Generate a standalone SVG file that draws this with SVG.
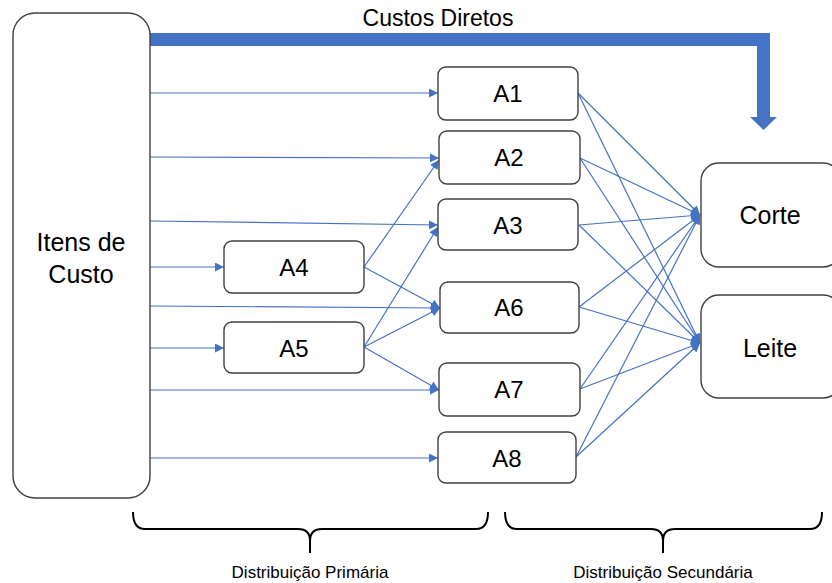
<svg xmlns="http://www.w3.org/2000/svg" width="832" height="583" viewBox="0 0 832 583">
<style>
.box{fill:#fff;stroke:#404040;stroke-width:1.4}
.lbl{font-family:"Liberation Sans","DejaVu Sans",sans-serif;fill:#000;text-anchor:middle}
.n{font-size:24px}
.b{font-size:25px}
.c{stroke:#4472C4;stroke-width:1.2;fill:none;marker-end:url(#ah)}
.br{stroke:#000;stroke-width:2;fill:none}
.sm{font-size:17px}
</style>
<defs>
<marker id="ah" viewBox="0 0 10 10" refX="10" refY="5" markerWidth="10" markerHeight="9" markerUnits="userSpaceOnUse" orient="auto">
<path d="M0,0 L10,5 L0,10 Z" fill="#4472C4"/>
</marker>
</defs>
<g id="direct">
<polygon points="150,33 770,33 770,117 777,117 763.5,130 750,117 757,117 757,46 150,46" fill="#4472C4"/>
<text class="lbl" x="438" y="26" font-size="23">Custos Diretos</text>
</g>
<g id="connectors">
<line class="c" x1="150" y1="93" x2="438" y2="93"/>
<line class="c" x1="150" y1="157" x2="439" y2="158"/>
<line class="c" x1="150" y1="221" x2="438" y2="225"/>
<line class="c" x1="150" y1="267" x2="224" y2="267"/>
<line class="c" x1="150" y1="306" x2="440" y2="308"/>
<line class="c" x1="150" y1="348" x2="224" y2="348"/>
<line class="c" x1="150" y1="390" x2="439" y2="390"/>
<line class="c" x1="150" y1="458" x2="438" y2="458"/>
<line class="c" x1="364" y1="267" x2="439" y2="160"/>
<line class="c" x1="364" y1="267" x2="440" y2="308"/>
<line class="c" x1="364" y1="347" x2="438" y2="227"/>
<line class="c" x1="364" y1="347" x2="440" y2="308"/>
<line class="c" x1="364" y1="347" x2="439" y2="390"/>
<line class="c" x1="578" y1="93" x2="700" y2="215"/>
<line class="c" x1="578" y1="93" x2="700" y2="343"/>
<line class="c" x1="580" y1="158" x2="700" y2="215"/>
<line class="c" x1="580" y1="158" x2="700" y2="343"/>
<line class="c" x1="579" y1="225" x2="700" y2="215"/>
<line class="c" x1="579" y1="225" x2="700" y2="343"/>
<line class="c" x1="579" y1="307" x2="700" y2="215"/>
<line class="c" x1="579" y1="307" x2="700" y2="343"/>
<line class="c" x1="580" y1="389" x2="700" y2="215"/>
<line class="c" x1="580" y1="389" x2="700" y2="343"/>
<line class="c" x1="576" y1="457" x2="700" y2="215"/>
<line class="c" x1="576" y1="457" x2="700" y2="343"/>
</g>
<g id="itens">
<rect class="box" x="13" y="13" width="137" height="485" rx="22"/>
<text class="lbl b" x="81" y="251">Itens de</text>
<text class="lbl b" x="81" y="283">Custo</text>
</g>
<g id="A1"><rect class="box" x="438" y="67" width="140" height="53" rx="8"/><text class="lbl n" x="508" y="102">A1</text></g>
<g id="A2"><rect class="box" x="439" y="131" width="141" height="53" rx="8"/><text class="lbl n" x="509" y="166">A2</text></g>
<g id="A3"><rect class="box" x="438" y="199" width="140" height="51" rx="8"/><text class="lbl n" x="508" y="234">A3</text></g>
<g id="A4"><rect class="box" x="224" y="241" width="140" height="52" rx="8"/><text class="lbl n" x="294" y="276">A4</text></g>
<g id="A5"><rect class="box" x="224" y="322" width="140" height="51" rx="8"/><text class="lbl n" x="294" y="357">A5</text></g>
<g id="A6"><rect class="box" x="440" y="282" width="139" height="51" rx="8"/><text class="lbl n" x="509" y="316">A6</text></g>
<g id="A7"><rect class="box" x="439" y="363" width="141" height="53" rx="8"/><text class="lbl n" x="509" y="398">A7</text></g>
<g id="A8"><rect class="box" x="438" y="432" width="138" height="51" rx="8"/><text class="lbl n" x="507" y="467">A8</text></g>
<g id="Corte"><rect class="box" x="701" y="163" width="140" height="104" rx="18"/><text class="lbl b" x="770" y="224">Corte</text></g>
<g id="Leite"><rect class="box" x="701" y="295" width="140" height="103" rx="18"/><text class="lbl b" x="770" y="357">Leite</text></g>
<g id="primaria">
<path class="br" d="M133,512 Q133,529 145,529 L298,529 Q310,529 310,541 L310,553 M310,541 Q310,529 322,529 L476,529 Q488,529 488,512"/>
<text class="lbl sm" x="310" y="578">Distribuição Primária</text>
</g>
<g id="secundaria">
<path class="br" d="M505,512 Q505,529 517,529 L651,529 Q663,529 663,541 L663,553 M663,541 Q663,529 675,529 L810,529 Q822,529 822,512"/>
<text class="lbl sm" x="663" y="578">Distribuição Secundária</text>
</g>
</svg>
